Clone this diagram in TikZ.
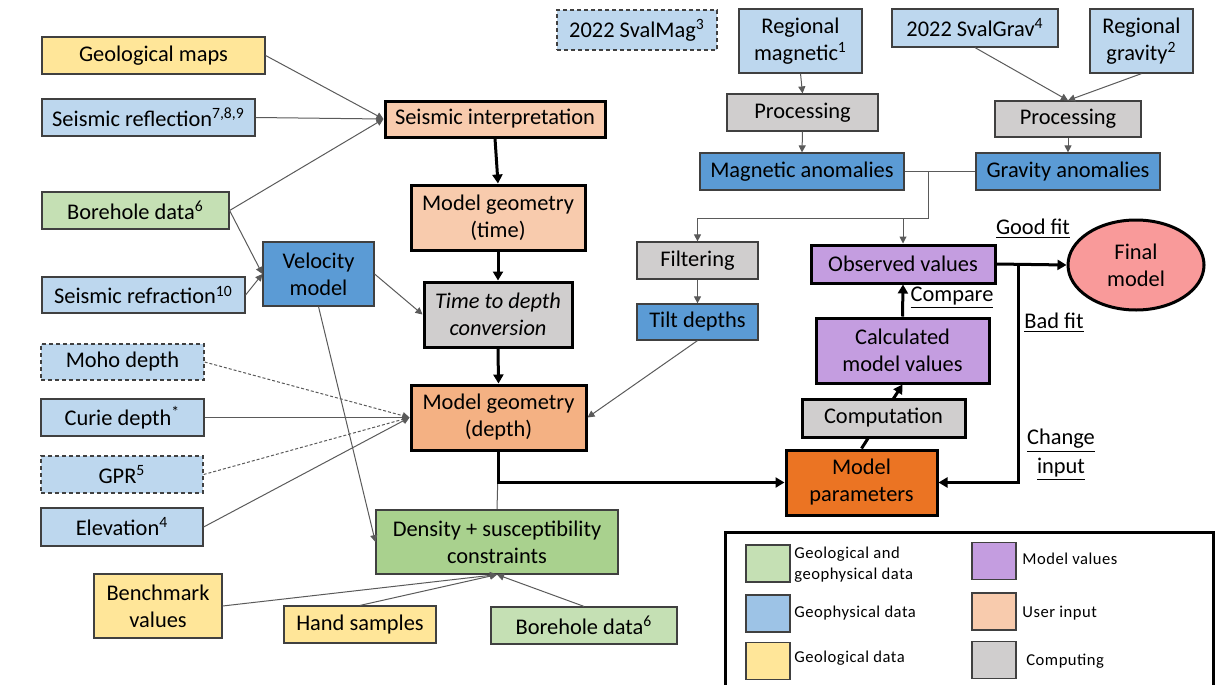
\documentclass[tikz,border=0pt]{standalone}
\usepackage{fontspec}
\setmainfont{Carlito}
\usetikzlibrary{arrows.meta,backgrounds,shapes.geometric}
\definecolor{cyel}{HTML}{FFE699}
\definecolor{clblue}{HTML}{BDD7EE}
\definecolor{clgreen}{HTML}{C5E0B4}
\definecolor{cmblue}{HTML}{5B9BD5}
\definecolor{cdgreen}{HTML}{A9D18E}
\definecolor{cpeach}{HTML}{F8CBAD}
\definecolor{cdpeach}{HTML}{F4B183}
\definecolor{corange}{HTML}{EB7423}
\definecolor{cgray}{HTML}{D0CECE}
\definecolor{cpurple}{HTML}{C49DE0}
\definecolor{cpink}{HTML}{F99A9A}
\definecolor{clegblue}{HTML}{9DC3E6}
\definecolor{bord}{HTML}{404040}
\definecolor{lgray}{HTML}{5A5A5A}
\newcommand\mainf{\fontsize{11.2}{13.5}\selectfont}
\newcommand\legf{\fontsize{8.3}{10.5}\selectfont\addfontfeatures{LetterSpace=3}}
\begin{document}
\begin{tikzpicture}[x=0.5pt,y=-0.5pt,
  box/.style={draw=bord, line width=0.6pt, rectangle, inner sep=1pt, align=center, font=\mainf, text=black},
  sz/.style 2 args={minimum width=#1*0.5pt, minimum height=#2*0.5pt},
  tk/.style={draw=black, line width=1.5pt},
  dsh/.style={dash pattern=on 2pt off 1.5pt},
  con/.style={draw=lgray, line width=0.5pt, -{Triangle[length=3.5pt,width=3.5pt]}},
  dotcon/.style={con, dash pattern=on 1.5pt off 1pt},
  tcon/.style={draw=black, line width=1.5pt, -{Triangle[length=4.5pt,width=5pt]}},
  lbl/.style={font=\mainf, inner sep=0pt, align=center},
  sw/.style={draw=bord, line width=0.6pt, minimum width=22pt, minimum height=18.5pt, inner sep=0pt},
  legtext/.style={font=\legf, anchor=west, align=left, inner sep=0pt}
]
\useasboundingbox (0,0) rectangle (1215,685);

% left column inputs
\node[box, sz={223}{37}, fill=cyel] (geomaps) at (153.5,55.5) {Geological maps};
\node[box, sz={213}{37}, fill=clblue] (seisrefl) at (148.5,117.5) {Seismic reflection\textsuperscript{7,8,9}};
\node[box, sz={187}{37}, fill=clgreen] (bore1) at (135.5,210.5) {Borehole data\textsuperscript{6}};
\node[box, sz={203}{36}, fill=clblue] (seisrefr) at (143.5,295) {Seismic refraction\textsuperscript{10}};
\node[box, sz={163}{36}, fill=clblue, dsh] (moho) at (122.5,362) {Moho depth};
\node[box, sz={163}{37}, fill=clblue] (curie) at (122.5,417.5) {Curie depth\textsuperscript{*}};
\node[box, sz={162}{37}, fill=clblue, dsh] (gpr) at (122,474.5) {GPR\textsuperscript{5}};
\node[box, sz={162}{38}, fill=clblue] (elev) at (122,527) {Elevation\textsuperscript{4}};
\node[box, sz={111}{64}, fill=cmblue] (vel) at (318.5,274) {Velocity\\model};

% central column
\node[box, tk, sz={220}{36}, fill=cpeach] (seisint) at (495,119) {Seismic interpretation};
\node[box, tk, sz={174}{65}, fill=cpeach] (mgtime) at (498,217.5) {Model geometry\\(time)};
\node[box, tk, sz={148}{65}, fill=cgray, font=\mainf\itshape] (tdc) at (498,314.5) {Time to depth\\conversion};
\node[box, tk, sz={175}{65}, fill=cdpeach] (mgdepth) at (498.5,417.5) {Model geometry\\(depth)};
\node[box, sz={242}{64}, fill=cdgreen] (dens) at (497,542) {Density + susceptibility\\constraints};
\node[box, sz={128}{64}, fill=cyel] (bench) at (158,606) {Benchmark\\values};
\node[box, sz={152}{37}, fill=cyel] (hand) at (360,624.5) {Hand samples};
\node[box, sz={186}{37}, fill=clgreen] (bore2) at (584,625.5) {Borehole data\textsuperscript{6}};

% top right
\node[box, sz={160}{40}, fill=clblue, dsh] (svalmag) at (637,30) {2022 SvalMag\textsuperscript{3}};
\node[box, sz={123}{64}, fill=clblue] (regmag) at (800.5,41) {Regional\\magnetic\textsuperscript{1}};
\node[box, sz={166}{38}, fill=clblue] (svalgrav) at (975,28) {2022 SvalGrav\textsuperscript{4}};
\node[box, sz={103}{64}, fill=clblue] (reggrav) at (1141.5,41) {Regional\\gravity\textsuperscript{2}};
\node[box, sz={151}{37}, fill=cgray] (procmag) at (802.5,112.5) {Processing};
\node[box, sz={146}{36}, fill=cgray] (procgrav) at (1068,119) {Processing};
\node[box, sz={204}{37}, fill=cmblue] (maganom) at (802,171.5) {Magnetic anomalies};
\node[box, sz={184}{37}, fill=cmblue] (gravanom) at (1068,171.5) {Gravity anomalies};
\node[box, sz={121}{37}, fill=cgray] (filt) at (697.5,260.5) {Filtering};
\node[box, sz={121}{36}, fill=cmblue] (tilt) at (697.5,322) {Tilt depths};

% model loop
\node[box, tk, sz={184}{38}, fill=cpurple] (obs) at (903,264) {Observed values};
\node[box, tk, sz={173}{65}, fill=cpurple] (calc) at (902.5,350.5) {Calculated\\model values};
\node[box, tk, sz={163}{38}, fill=cgray] (comp) at (883.5,418) {Computation};
\node[box, tk, sz={151}{65}, fill=corange] (mp) at (861.5,482.5) {Model\\parameters};
\node[ellipse, draw=black, line width=1.5pt, fill=cpink, minimum width=68pt, minimum height=45pt, inner sep=0pt, align=center, font=\mainf] (final) at (1136,265) {Final\\model};

\node[lbl] (lgood) at (1033,229) {\underline{Good fit}};
\node[lbl] (lcomp) at (952,298) {\underline{Compare}};
\node[lbl] (lbad) at (1054,323) {\underline{Bad fit}};
\node[lbl] (lchange) at (1061,455) {\underline{Change}\\[1pt]\underline{input}};

\coordinate (j1) at (928,171.5);
\coordinate (j2) at (928,218);
\coordinate (k) at (1018,264);

% connectors behind nodes
\begin{pgfonlayer}{background}
\draw[tcon] (mp.north) -- (calc.south);
\draw[draw=lgray, line width=0.5pt] (mgdepth.south) -- (dens.north);
\end{pgfonlayer}

\draw[con] (geomaps.east) -- (seisint.west);
\draw[con] (seisrefl.east) -- (seisint.west);
\draw[con] (bore1.east) -- (seisint.west);
\draw[con] (bore1.east) -- (vel.west);
\draw[con] (seisrefr.east) -- (vel.west);
\draw[tcon] (seisint.south) -- (mgtime.north);
\draw[tcon] (mgtime.south) -- (tdc.north);
\draw[tcon] (tdc.south) -- (mgdepth.north);
\draw[con] (vel.east) -- (tdc.west);
\draw[con] (vel.south) -- (dens.west);
\draw[dotcon] (moho.east) -- (mgdepth.west);
\draw[con] (curie.east) -- (mgdepth.west);
\draw[dotcon] (gpr.east) -- (mgdepth.west);
\draw[con] (elev.east) -- (mgdepth.west);
\draw[con] (tilt.south) -- (mgdepth.east);
\draw[tcon] (mgdepth.south) |- (mp.west);
\draw[con] (bench.east) -- (dens.south);
\draw[con] (hand.north) -- (dens.south);
\draw[con] (bore2.north) -- (dens.south);

\draw[con] (regmag.south) -- (procmag.north);
\draw[con] (procmag.south) -- (maganom.north);
\draw[con] (svalgrav.south) -- (procgrav.north);
\draw[con] (reggrav.south) -- (procgrav.north);
\draw[con] (procgrav.south) -- (gravanom.north);
\draw[draw=lgray, line width=0.5pt] (maganom.east) -- (gravanom.west);
\draw[con] (j1) -- (j2) -| (filt.north);
\draw[con] (j2 -| obs.north) -- (obs.north);
\draw[con] (filt.south) -- (tilt.north);

\draw[tcon] (calc.north) -- (obs.south);
\draw[tcon] (obs.east) -- (final.west);
\draw[tcon] (k) |- (mp.east);

% legend
\draw[draw=black, line width=1.5pt] (725,532) rectangle (1213,720);
\node[sw, fill=clgreen] (sw1) at (768,563.5) {};
\node[sw, fill=clegblue] (sw2) at (768,613.5) {};
\node[sw, fill=cyel] (sw3) at (768,661) {};
\node[sw, fill=cpurple] (sw4) at (994,561) {};
\node[sw, fill=cpeach] (sw5) at (994,611.5) {};
\node[sw, fill=cgray] (sw6) at (994,660) {};
\node[legtext] (lt1) at (794,565) {Geological and\\geophysical data};
\node[legtext] (lt2) at (794,613) {Geophysical data};
\node[legtext] (lt3) at (794,658) {Geological data};
\node[legtext] (lt4) at (1022,559) {Model values};
\node[legtext] (lt5) at (1022,613) {User input};
\node[legtext] (lt6) at (1026,661) {Computing};
\end{tikzpicture}
\end{document}
